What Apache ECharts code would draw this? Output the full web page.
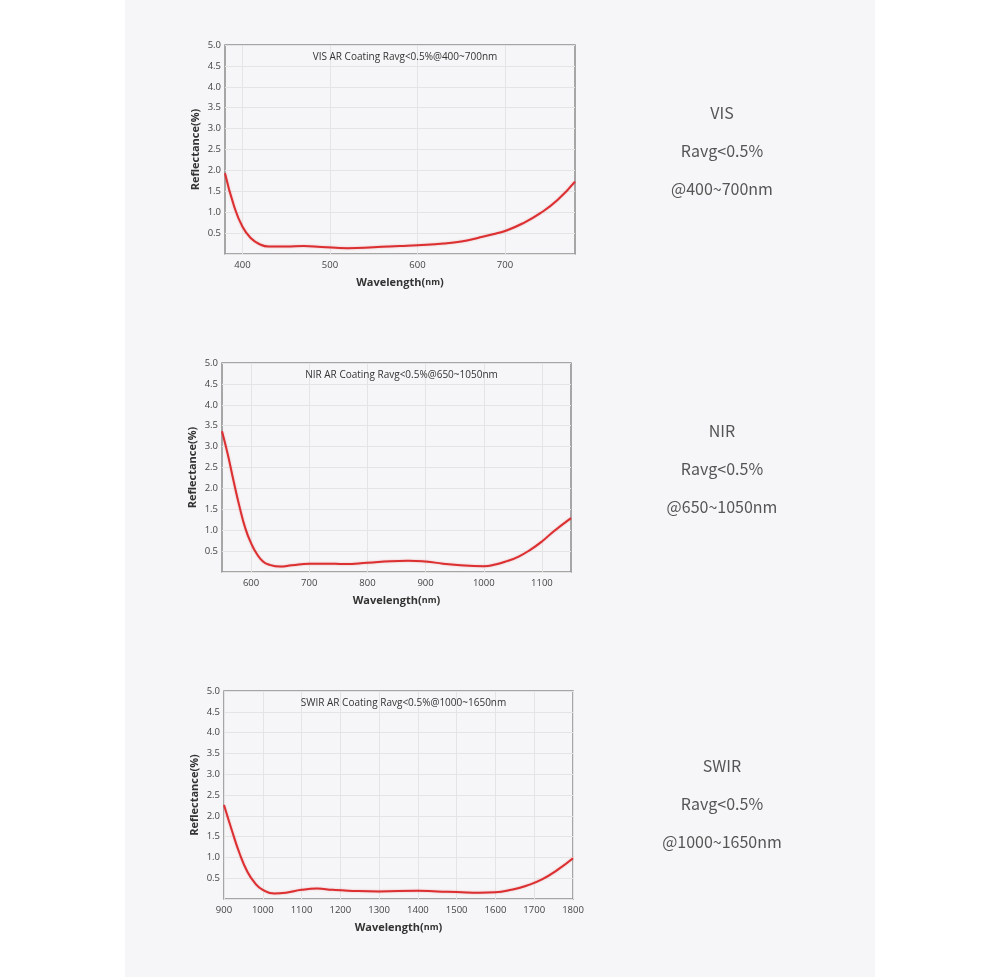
<!DOCTYPE html>
<html>
<head>
<meta charset="utf-8">
<style>
  html, body { margin: 0; padding: 0; background: #ffffff; }
  #chart { width: 1000px; height: 977px; }
</style>
<script src="https://cdn.jsdelivr.net/npm/echarts@6/dist/echarts.min.js"></script>
</head>
<body>
<div id="chart"></div>
<script>
// ---- Data ----
const visWavelength = [380, 390, 400, 410, 420, 430, 450, 470, 490, 520, 550, 580, 600, 630, 650, 670, 690, 700, 720, 740, 760, 780];
const visReflectance = [1.93, 1.17, 0.65, 0.37, 0.23, 0.18, 0.18, 0.19, 0.17, 0.14, 0.16, 0.19, 0.21, 0.25, 0.30, 0.39, 0.49, 0.55, 0.73, 0.97, 1.29, 1.73];

const nirWavelength = [550, 560, 570, 580, 590, 600, 610, 620, 630, 650, 670, 700, 730, 760, 800, 840, 870, 900, 930, 960, 1000, 1020, 1040, 1060, 1080, 1100, 1120, 1150];
const nirReflectance = [3.37, 2.81, 2.17, 1.57, 1.05, 0.69, 0.43, 0.26, 0.18, 0.13, 0.16, 0.20, 0.20, 0.19, 0.22, 0.26, 0.27, 0.25, 0.20, 0.16, 0.14, 0.18, 0.26, 0.37, 0.53, 0.73, 0.97, 1.29];

const swirWavelength = [900, 920, 940, 960, 980, 1000, 1030, 1060, 1100, 1140, 1180, 1220, 1300, 1400, 1450, 1500, 1560, 1600, 1640, 1680, 1720, 1760, 1800];
const swirReflectance = [2.26, 1.66, 1.10, 0.66, 0.38, 0.22, 0.13, 0.15, 0.22, 0.25, 0.22, 0.20, 0.18, 0.20, 0.18, 0.17, 0.15, 0.16, 0.22, 0.32, 0.47, 0.70, 0.98];

const visTicks = [400, 500, 600, 700];
const nirTicks = [600, 700, 800, 900, 1000, 1100];
const swirTicks = [900, 1000, 1100, 1200, 1300, 1400, 1500, 1600, 1700, 1800];

const chartTitles = ['VIS AR Coating Ravg<0.5%@400~700nm', 'NIR AR Coating Ravg<0.5%@650~1050nm', 'SWIR AR Coating Ravg<0.5%@1000~1650nm'];
const sideLabels = [['VIS', 'Ravg<0.5%', '@400~700nm'], ['NIR', 'Ravg<0.5%', '@650~1050nm'], ['SWIR', 'Ravg<0.5%', '@1000~1650nm']];
const xRanges = [[380, 780], [550, 1150], [900, 1800]];
const yTickMax = 5;

// ---- Layout ----
const grids = [
  { left: 225, top: 45, width: 350, height: 209 },
  { left: 222, top: 363, width: 349, height: 209 },
  { left: 224, top: 691, width: 349, height: 208 }
];
const sideY = [[113, 151, 189], [431, 469, 507], [766, 804, 842]];

const FONT = '"Open Sans", "Noto Sans", sans-serif';
const pairs = [
  [visWavelength, visReflectance, visTicks],
  [nirWavelength, nirReflectance, nirTicks],
  [swirWavelength, swirReflectance, swirTicks]
];

const option = {
  backgroundColor: '#ffffff',
  animation: false,
  graphic: [],
  title: [],
  grid: [],
  xAxis: [],
  yAxis: [],
  series: []
};

option.graphic.push({
  type: 'rect', z: -10, silent: true,
  shape: { x: 125, y: 0, width: 750, height: 977 },
  style: { fill: '#f6f6f8' }
});

pairs.forEach((p, i) => {
  const g = grids[i];
  option.grid.push(Object.assign({
    show: true,
    backgroundColor: 'transparent',
    borderColor: '#8c8c8c',
    borderWidth: 1.5,
    containLabel: false
  }, g));

  option.xAxis.push({
    type: 'value',
    gridIndex: i,
    min: xRanges[i][0],
    max: xRanges[i][1],
    name: '{a|Wavelength(}{b|nm}{a|)}',
    nameLocation: 'middle',
    nameGap: 23,
    nameTextStyle: {
      rich: {
        a: { fontFamily: FONT, fontWeight: 'bold', fontSize: 11, color: '#333' },
        b: { fontFamily: FONT, fontWeight: 'bold', fontSize: 9, color: '#333' }
      }
    },
    axisLine: { show: false },
    axisTick: { show: false, customValues: p[2] },
    axisLabel: { customValues: p[2], fontFamily: FONT, fontSize: 9.5, color: '#444', margin: 6, formatter: v => String(v) },
    splitLine: { show: true, lineStyle: { color: '#e4e4e4', width: 1 } }
  });

  option.yAxis.push({
    type: 'value',
    gridIndex: i,
    min: 0,
    max: yTickMax,
    interval: 0.5,
    name: 'Reflectance(%)',
    nameLocation: 'middle',
    nameGap: 24,
    nameRotate: 90,
    nameTextStyle: { fontFamily: FONT, fontWeight: 'bold', fontSize: 11, color: '#333' },
    axisLine: { show: false },
    axisTick: { show: false },
    axisLabel: {
      fontFamily: FONT, fontSize: 9.5, color: '#444', margin: 4,
      formatter: v => (v === 0 ? '' : v.toFixed(1))
    },
    splitLine: { show: true, lineStyle: { color: '#e4e4e4', width: 1 } }
  });

  option.series.push({
    type: 'line',
    xAxisIndex: i,
    yAxisIndex: i,
    data: p[0].map((x, k) => [x, p[1][k]]),
    smooth: 0.5,
    symbol: 'none',
    clip: true,
    lineStyle: { color: '#dc2f32', width: 2, shadowColor: 'rgba(220,47,50,0.35)', shadowBlur: 2 }
  });

  option.title.push({
    text: chartTitles[i],
    left: g.left + g.width / 2,
    top: g.top + 2,
    textAlign: 'center',
    textStyle: { fontFamily: FONT, fontWeight: 'normal', fontSize: 10, color: '#333' }
  });

  sideLabels[i].forEach((t, k) => {
    option.title.push({
      text: t,
      left: 717,
      top: sideY[i][k] - 13,
      textAlign: 'center',
      textStyle: { fontFamily: '"Noto Sans CJK SC", "Noto Sans", sans-serif', fontWeight: 'normal', fontSize: 16, color: '#555' }
    });
  });
});

const chart = echarts.init(document.getElementById('chart'), null, { renderer: 'canvas' });
chart.setOption(option);
</script>
</body>
</html>
